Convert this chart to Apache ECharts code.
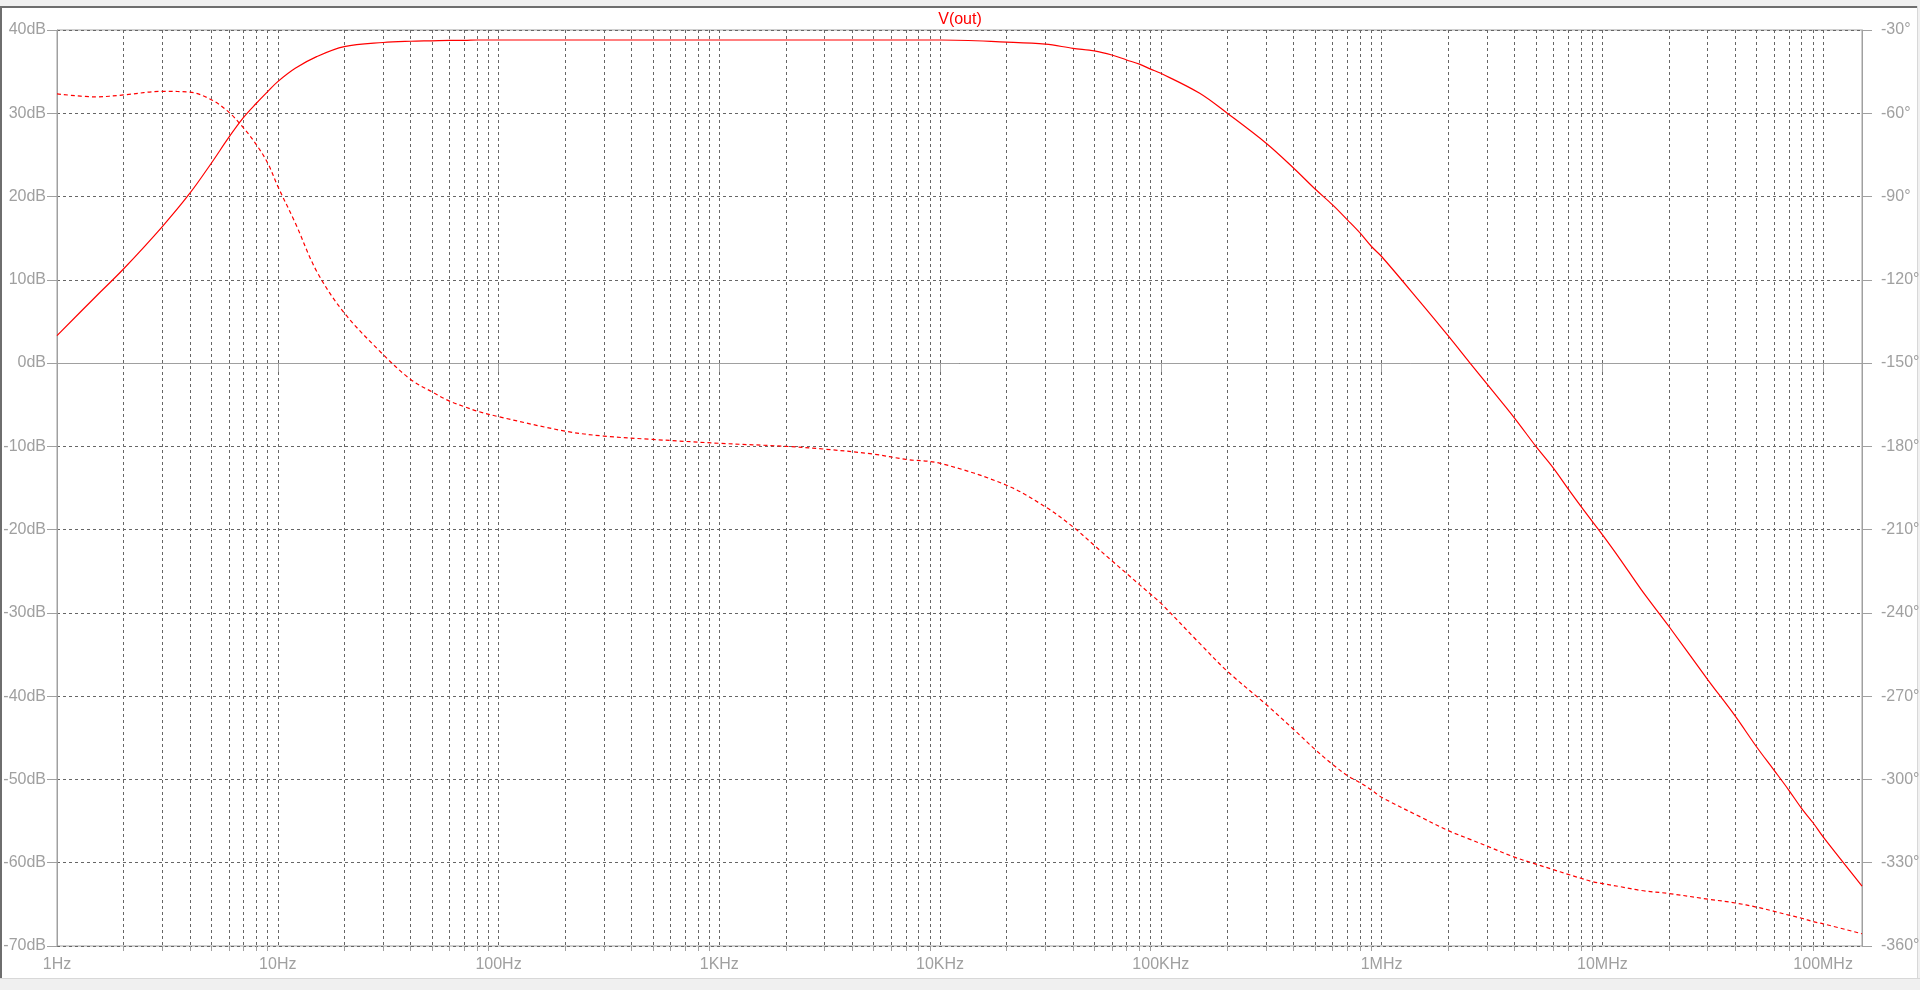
<!DOCTYPE html>
<html>
<head>
<meta charset="utf-8">
<style>
  html, body { margin: 0; padding: 0; background: #f0f0f0; }
  #chart { width: 1920px; height: 990px; }
</style>
<script src="https://cdn.jsdelivr.net/npm/echarts@6/dist/echarts.min.js"></script>
</head>
<body>
<div id="chart"></div>
<script>
// ---- data ----
const freqHz = [1, 1.5, 2, 3, 4, 5, 6, 7, 8, 9, 10, 12, 15, 20, 30, 40, 50, 60, 70, 80, 100,
  200, 300, 500, 1e3, 2e3, 3e3, 5e3, 7e3, 1e4, 2e4, 3e4, 4e4, 5e4, 6e4, 7e4, 8e4, 9e4, 1e5, 1.5e5,
  2e5, 3e5, 4e5, 5e5, 6e5, 7e5, 8e5, 9e5, 1e6, 1.5e6, 2e6, 2.5e6, 3e6, 4e6, 5e6, 6e6, 7e6, 8e6, 9e6, 1e7,
  1.2e7, 1.5e7, 2e7, 3e7, 4e7, 5e7, 6e7, 7e7, 8e7, 9e7, 1e8, 1.5e8];
const magnitudeDb = [3.3, 8.0, 11.3, 16.4, 20.4, 24.0, 27.1, 29.5, 31.2, 32.6, 33.8, 35.4, 36.8, 38.0, 38.5, 38.65, 38.7, 38.75, 38.75, 38.8, 38.8,
  38.8, 38.8, 38.8, 38.8, 38.8, 38.8, 38.8, 38.8, 38.8, 38.55, 38.3, 37.8, 37.5, 37.0, 36.4, 35.9, 35.3, 34.8, 32.4,
  30.0, 26.4, 23.4, 20.9, 19.0, 17.2, 15.6, 14.0, 12.8, 7.3, 3.3, 0.1, -2.5, -6.6, -10.0, -12.6, -15.1, -17.2, -19.0, -20.6,
  -23.5, -27.2, -31.6, -38.0, -42.4, -46.1, -48.9, -51.3, -53.5, -55.2, -56.9, -62.8];
const phaseDeg = [-53.0, -54.1, -53.4, -52.1, -52.4, -55.1, -59.6, -65.3, -71.3, -77.9, -86.3, -99.5, -116.9, -131.9, -146.9, -155.9, -160.4, -163.7, -165.7, -167.3, -169.3,
  -174.5, -176.3, -177.5, -178.9, -180.0, -181.0, -182.8, -184.7, -186.1, -194.0, -201.8, -209.0, -215.7, -221.2, -225.8, -229.8, -233.3, -236.5, -251.0,
  -261.0, -273.0, -282.0, -289.2, -294.6, -298.6, -301.2, -303.8, -306.4, -313.5, -318.4, -321.5, -324.0, -328.0, -330.5, -332.5, -334.2, -335.6, -336.8, -337.5,
  -338.6, -340.0, -341.1, -343.1, -344.5, -346.0, -347.5, -348.9, -350.0, -351.2, -352.0, -355.6];

const decadeTicks = [1, 10, 100, 1e3, 1e4, 1e5, 1e6, 1e7, 1e8];
const decadeLabels = ['1Hz', '10Hz', '100Hz', '1KHz', '10KHz', '100KHz', '1MHz', '10MHz', '100MHz'];
const minorMultipliers = [2, 3, 4, 5, 6, 7, 8, 9];
const freqMin = 1, freqMax = 1.5e8;
const magTicks = { min: -70, max: 40, step: 10 };
const phaseTicks = { min: -360, max: -30, step: 30 };
const traceTitle = 'V(out)';

// minor tick positions (2..9 x each decade, within range)
const minorTicks = [];
decadeTicks.forEach(d => minorMultipliers.forEach(m => { if (d * m <= freqMax) minorTicks.push(d * m); }));

const AXIS_GRAY = '#a0a0a0';
const GRID_GRAY = '#666666';
const FONT = "'Liberation Sans', Arial, sans-serif";

const chart = echarts.init(document.getElementById('chart'), null, { renderer: 'canvas' });

const option = {
  animation: false,
  backgroundColor: '#f0f0f0',
  graphic: [
    { type: 'rect', z: -10, shape: { x: 0, y: 7, width: 1918, height: 971 }, style: { fill: '#ffffff' }, silent: true },
    { type: 'rect', z: -9, shape: { x: 0, y: 6, width: 1918, height: 2 }, style: { fill: '#6e6e6e' }, silent: true },
    { type: 'rect', z: -9, shape: { x: 0, y: 6, width: 2, height: 972 }, style: { fill: '#6e6e6e' }, silent: true },
    { type: 'rect', z: -9, shape: { x: 0, y: 978, width: 1920, height: 1 }, style: { fill: '#d8d8d8' }, silent: true },
    { type: 'rect', z: -9, shape: { x: 1917, y: 6, width: 1, height: 973 }, style: { fill: '#d8d8d8' }, silent: true }
  ],
  title: {
    text: traceTitle,
    left: 'center',
    top: 12,
    padding: 0,
    textStyle: { color: '#ff0000', fontSize: 16, fontWeight: 'normal', fontFamily: FONT }
  },
  grid: {
    left: 57, right: 58, top: 30, bottom: 44,
    outerBoundsMode: 'none',
    show: true, borderColor: AXIS_GRAY, borderWidth: 1, backgroundColor: 'transparent'
  },
  xAxis: [
    {
      type: 'log', logBase: 10, min: freqMin, max: freqMax, position: 'bottom',
      axisLine: { show: true, lineStyle: { color: AXIS_GRAY, width: 1 } },
      axisTick: { show: true, length: 9, customValues: decadeTicks, lineStyle: { color: AXIS_GRAY } },
      axisLabel: {
        show: true, customValues: decadeTicks, margin: 11, color: AXIS_GRAY, fontSize: 16, fontFamily: FONT,
        formatter: v => { const i = decadeTicks.findIndex(d => Math.abs(d - v) / d < 1e-6); return i >= 0 ? decadeLabels[i] : ''; }
      },
      splitLine: { show: true, lineStyle: { color: GRID_GRAY, type: [3, 3], width: 1 } }
    },
    {
      type: 'log', logBase: 10, min: freqMin, max: freqMax, position: 'bottom',
      axisLine: { show: false },
      axisTick: { show: true, length: 5, customValues: minorTicks, lineStyle: { color: AXIS_GRAY } },
      axisLabel: { show: false },
      splitLine: { show: true, lineStyle: { color: GRID_GRAY, type: [3, 3], width: 1 } }
    }
  ],
  yAxis: [
    {
      type: 'value', min: magTicks.min, max: magTicks.max, interval: magTicks.step, position: 'left',
      axisLine: { show: true, lineStyle: { color: AXIS_GRAY } },
      axisTick: { show: true, length: 10, lineStyle: { color: AXIS_GRAY } },
      axisLabel: { formatter: '{value}dB', color: AXIS_GRAY, fontSize: 16, fontFamily: FONT, margin: 11 },
      splitLine: { show: true, lineStyle: { color: GRID_GRAY, type: [3, 3], width: 1 } }
    },
    {
      type: 'value', min: phaseTicks.min, max: phaseTicks.max, interval: phaseTicks.step, position: 'right',
      axisLine: { show: true, lineStyle: { color: AXIS_GRAY } },
      axisTick: { show: true, length: 10, lineStyle: { color: AXIS_GRAY } },
      axisLabel: { formatter: '{value}°', color: AXIS_GRAY, fontSize: 16, fontFamily: FONT, margin: 19 },
      splitLine: { show: false }
    }
  ],
  series: [
    {
      name: 'magnitude', type: 'line', xAxisIndex: 0, yAxisIndex: 0,
      data: freqHz.map((f, i) => [f, magnitudeDb[i]]),
      showSymbol: false, smooth: 0.35,
      lineStyle: { color: '#ff0000', width: 1.2 }, z: 5
    },
    {
      name: 'phase', type: 'line', xAxisIndex: 0, yAxisIndex: 1,
      data: freqHz.map((f, i) => [f, phaseDeg[i]]),
      showSymbol: false, smooth: 0.35,
      lineStyle: { color: '#ff0000', width: 1.2, type: [4, 3] }, z: 5
    }
  ]
};
chart.setOption(option);
</script>
</body>
</html>
